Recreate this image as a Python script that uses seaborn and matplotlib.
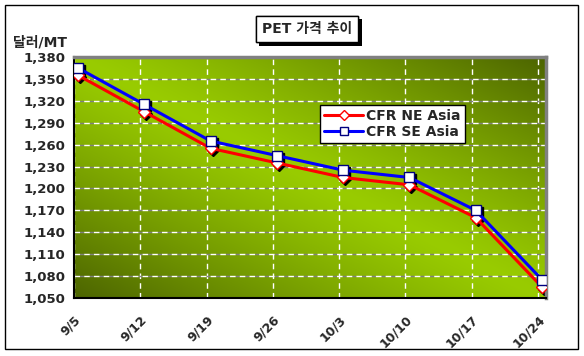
import numpy as np
import pandas as pd
import matplotlib
matplotlib.use('Agg')
import matplotlib.pyplot as plt
import matplotlib.patheffects as pe
import matplotlib.transforms as mtransforms
from matplotlib.patches import Rectangle
from matplotlib.ticker import FuncFormatter
import seaborn as sns

# 데이터
weeks = ['9/5', '9/12', '9/19', '9/26', '10/3', '10/10', '10/17', '10/24']
ne_asia = [1355, 1305, 1255, 1235, 1215, 1205, 1160, 1065]
se_asia = [1365, 1315, 1265, 1245, 1225, 1215, 1170, 1075]
y_ticks = list(range(1050, 1381, 30))

sns.set_style('white')
plt.rcParams['font.family'] = ['DejaVu Sans', 'Noto Sans CJK KR']
plt.rcParams['font.weight'] = 'bold'

fig = plt.figure(figsize=(5.84, 3.56), dpi=100)
W, H = 584, 356
ax = fig.add_axes([74 / W, 1 - 298 / H, (546 - 74) / W, (298 - 57) / H])

# 배경 그라데이션 (좌상-우하 밝게, 우상/좌하 어둡게)
gx, gy = np.meshgrid(np.linspace(0, 1, 200), np.linspace(0, 1, 200))
t = np.abs(gx - gy) ** 1.2
bright = np.array([0x99, 0xcc, 0x00]) / 255
dark = np.array([0x4c, 0x64, 0x00]) / 255
img = bright * (1 - t[..., None]) + dark * t[..., None]
ax.imshow(img, extent=[0, 1, 0, 1], transform=ax.transAxes, aspect='auto',
          zorder=0, origin='upper')

pos = np.arange(len(weeks)) + 0.06
df = pd.DataFrame({'pos': pos, 'ne': ne_asia, 'se': se_asia})

# 마커 그림자
shadow = mtransforms.offset_copy(ax.transData, fig=fig, x=2, y=-2, units='dots')
ax.plot(df['pos'], df['ne'], ls='none', marker='D', ms=6.5, color='black',
        transform=shadow, zorder=2)
ax.plot(df['pos'], df['se'], ls='none', marker='s', ms=7, color='black',
        transform=shadow, zorder=2)

sns.lineplot(data=df, x='pos', y='ne', ax=ax, color='red', lw=2.2,
             marker='D', ms=6.5, markerfacecolor='white', markeredgecolor='red',
             markeredgewidth=1, label='CFR NE Asia', zorder=3)
sns.lineplot(data=df, x='pos', y='se', ax=ax, color='blue', lw=2.2,
             marker='s', ms=7, markerfacecolor='white', markeredgecolor='#000080',
             markeredgewidth=1, label='CFR SE Asia', zorder=4)

ax.set_xlim(0, 7.12)
ax.set_ylim(1050, 1380)
ax.set_xticks(range(len(weeks)))
ax.set_xticklabels(weeks, rotation=45, ha='right', rotation_mode='anchor',
                   fontsize=9, fontweight='bold')
ax.set_yticks(y_ticks)
ax.yaxis.set_major_formatter(FuncFormatter(lambda v, p: f'{int(v):,}'))
for lab in ax.get_yticklabels():
    lab.set_fontsize(9.5)
    lab.set_fontweight('bold')
ax.tick_params(axis='x', length=0, pad=11)
ax.tick_params(axis='y', length=0, pad=6)
ax.set_xlabel('')
ax.set_ylabel('')

ax.yaxis.grid(True, color='white', lw=1, linestyle=(0, (4, 3)), gapcolor='#808080')
ax.xaxis.grid(True, color='white', lw=1, linestyle=(0, (4, 3)))
for g in ax.get_xgridlines() + ax.get_ygridlines():
    g.set_zorder(1)

for s in ['left', 'bottom']:
    ax.spines[s].set_color('black')
    ax.spines[s].set_linewidth(1.5)
for s in ['top', 'right']:
    ax.spines[s].set_color('#808080')
    ax.spines[s].set_linewidth(2.5)

leg = ax.legend(loc='upper left', bbox_to_anchor=(320 / W, 1 - 105 / H),
                bbox_transform=fig.transFigure, frameon=True, fancybox=False,
                framealpha=1, edgecolor='black', borderpad=0.3, borderaxespad=0,
                labelspacing=0.1, handlelength=2.8, handletextpad=0.2,
                markerscale=0.75, prop={'size': 10, 'weight': 'bold'})
leg.get_frame().set_linewidth(1)
leg.set_zorder(10)

# 제목 박스
title = fig.text(307 / W, 1 - 29 / H, 'PET 가격 추이', ha='center', va='center',
                 fontsize=10, fontweight='bold',
                 bbox=dict(boxstyle='square,pad=0.45', fc='white', ec='black', lw=1))
title.get_bbox_patch().set_path_effects([
    pe.withSimplePatchShadow(offset=(2.5, -2.5), shadow_rgbFace='black', alpha=1),
    pe.Normal()])

fig.text(13 / W, 1 - 43 / H, '달러/MT', ha='left', va='center',
         fontsize=10, fontweight='bold')

# 바깥 테두리
fig.patches.append(Rectangle((5 / W, 1 - 349 / H), (578 - 5) / W, (349 - 5) / H,
                             transform=fig.transFigure, fill=False,
                             ec='black', lw=1))

fig.savefig('out.png', dpi=100, facecolor='white')
